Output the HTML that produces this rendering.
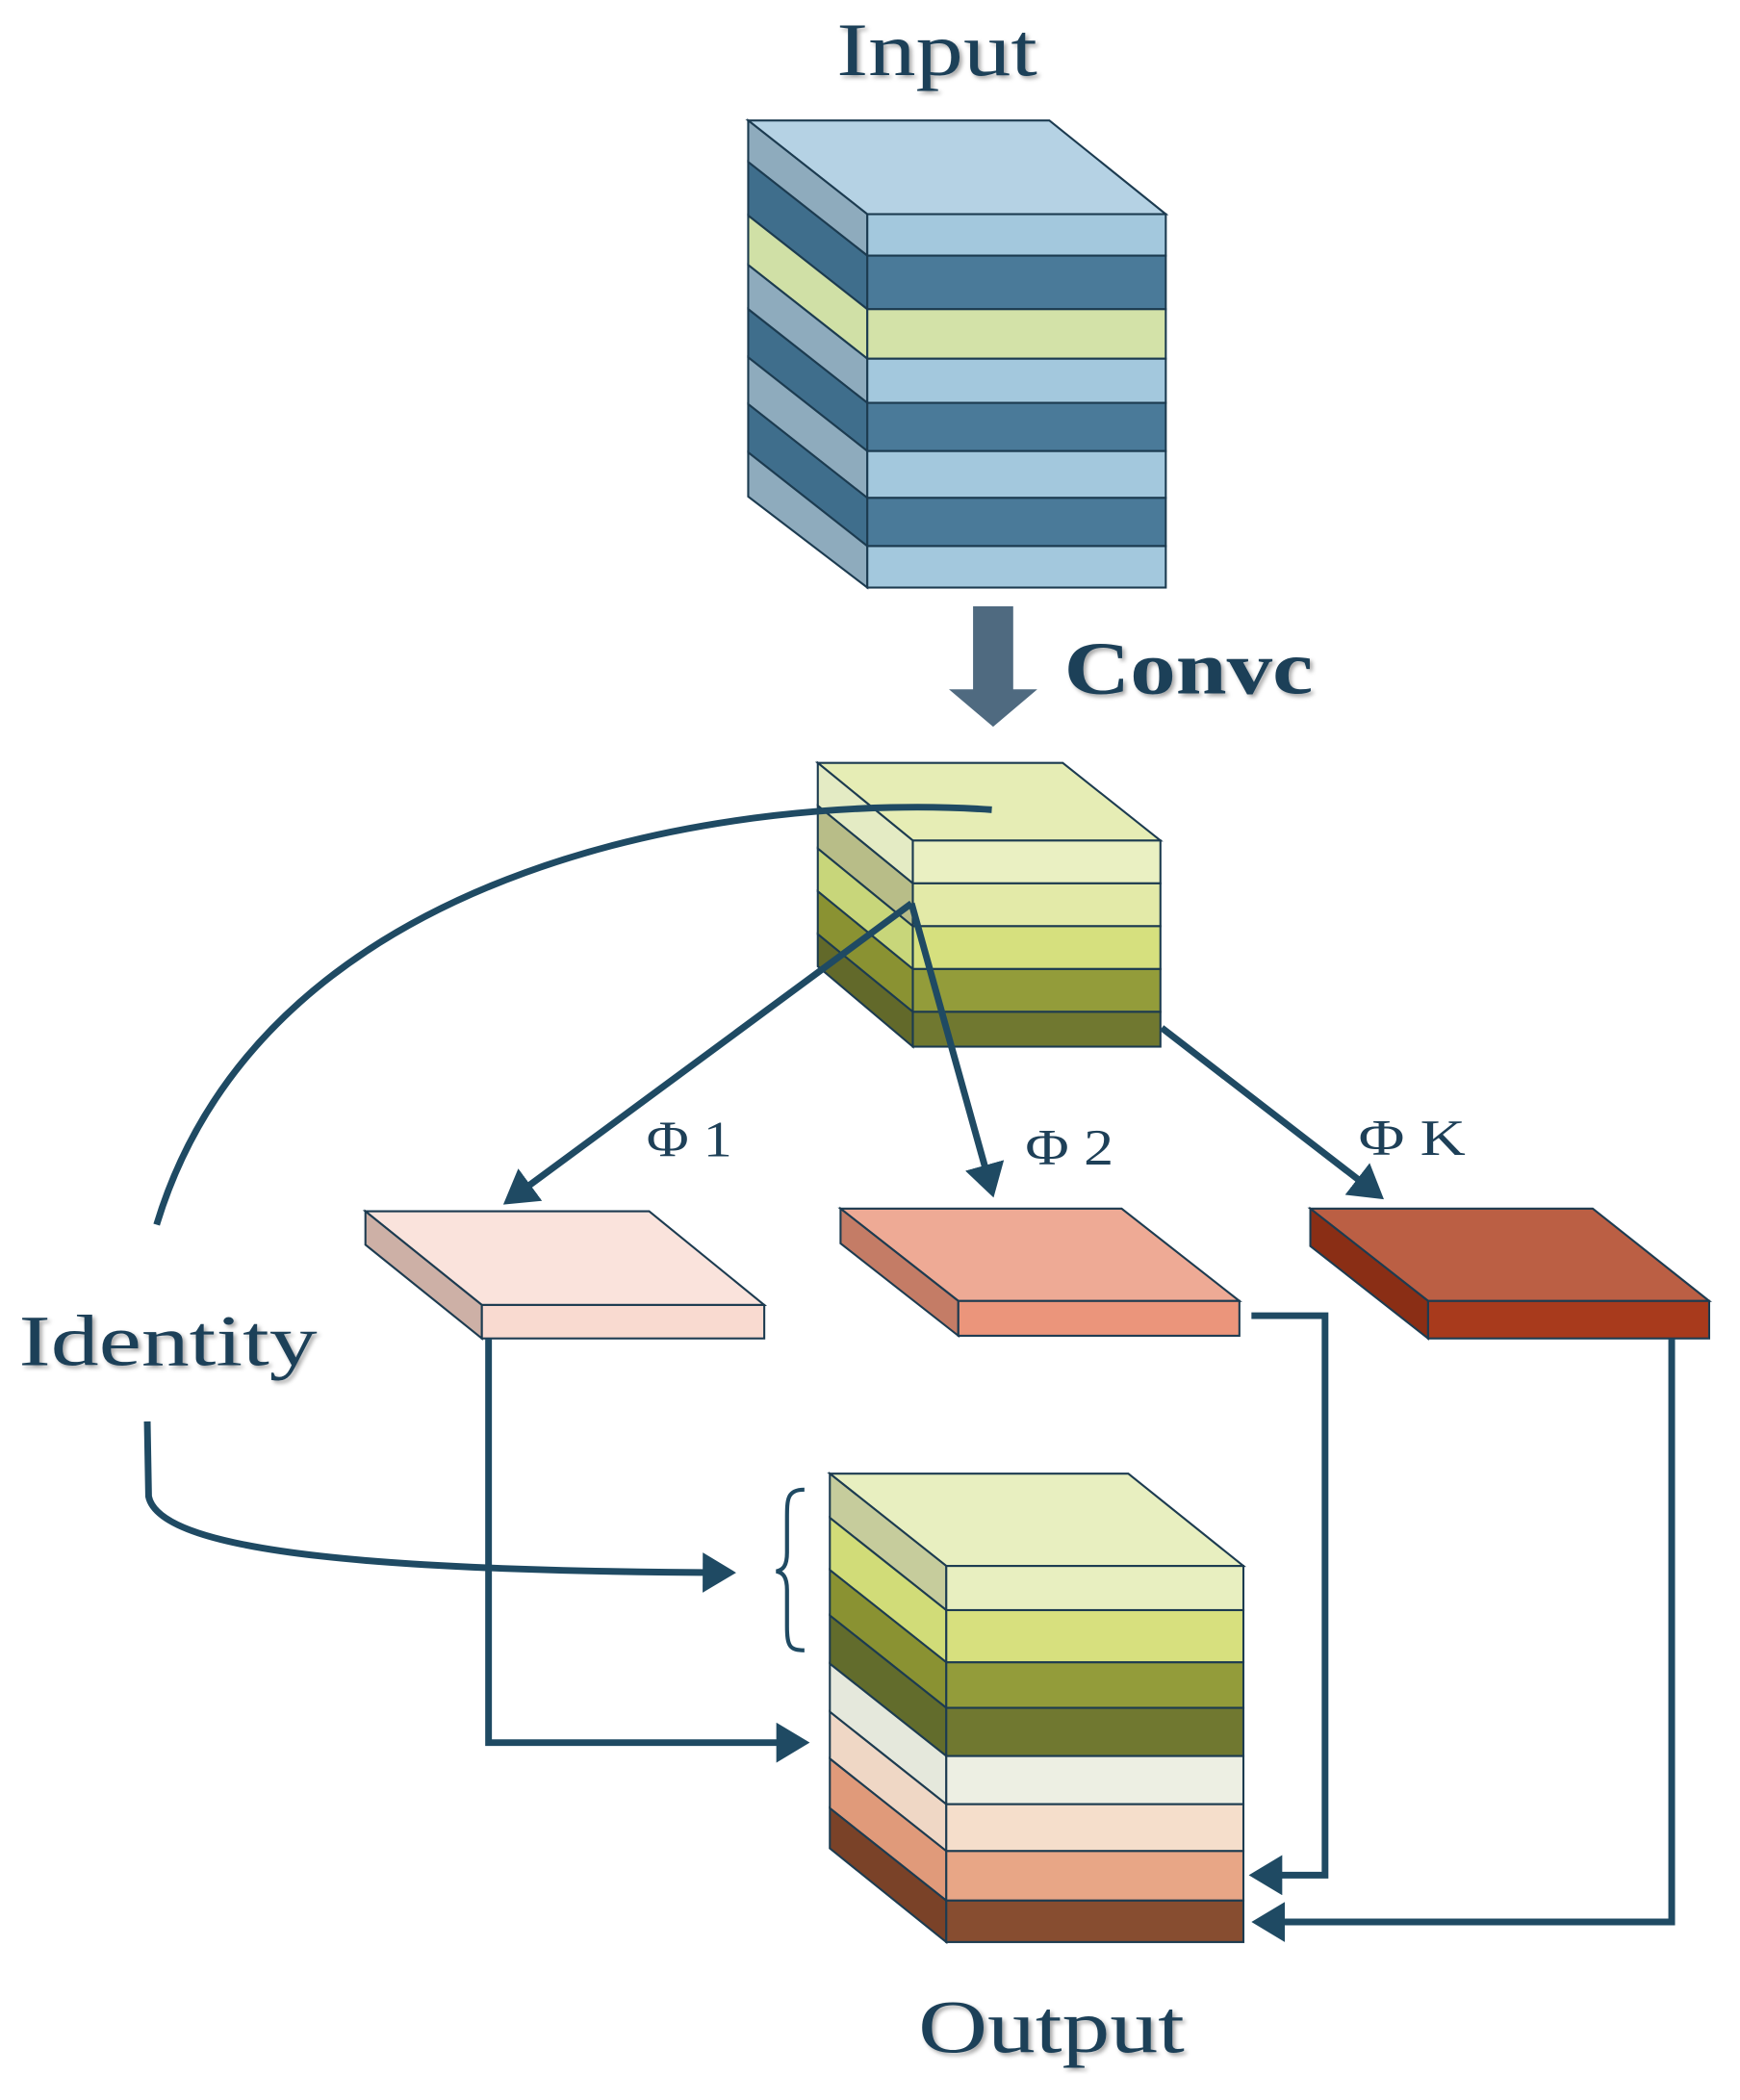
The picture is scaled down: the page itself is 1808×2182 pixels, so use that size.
<!DOCTYPE html>
<html><head><meta charset="utf-8"><style>html,body{margin:0;padding:0;background:#fff}svg{display:block}</style></head>
<body>
<svg width="1808" height="2182" viewBox="0 0 1300 1569" xmlns="http://www.w3.org/2000/svg">
<defs>
<marker id="ah" markerWidth="6" markerHeight="6" refX="4" refY="3" orient="auto" markerUnits="strokeWidth">
<path d="M0,0 L5,3 L0,6 Z" fill="#1f4a63"/></marker>
<filter id="sh"><feDropShadow dx="2" dy="2" stdDeviation="1.5" flood-color="#000" flood-opacity="0.35"/></filter>
</defs>
<g font-family="Liberation Serif, serif" fill="#1e4058" filter="url(#sh)">
<text x="625" y="56" font-size="56" textLength="150" lengthAdjust="spacingAndGlyphs">Input</text>
<text x="795" y="518" font-size="56" font-weight="bold" textLength="186" lengthAdjust="spacingAndGlyphs">Convc</text>
<text x="14" y="1020" font-size="54" textLength="223" lengthAdjust="spacingAndGlyphs">Identity</text>
<text x="686" y="1533" font-size="56" textLength="199" lengthAdjust="spacingAndGlyphs">Output</text>
</g>
<g stroke="#1c3b50" stroke-width="1.5">
<polygon points="559,90 784,90 871,160 648,160" fill="#b5d2e4"/>
<polygon points="559,90 648,160 648,191 559,121" fill="#8eabbd"/>
<polygon points="559,121 648,191 648,231 559,161" fill="#3f6e8c"/>
<polygon points="559,161 648,231 648,268 559,198" fill="#d0e0a6"/>
<polygon points="559,198 648,268 648,301 559,231" fill="#8eabbd"/>
<polygon points="559,231 648,301 648,337 559,267" fill="#3f6e8c"/>
<polygon points="559,267 648,337 648,372 559,302" fill="#8eabbd"/>
<polygon points="559,302 648,372 648,408 559,338" fill="#3f6e8c"/>
<polygon points="559,338 648,408 648,439 559,371" fill="#8eabbd"/>
<rect x="648" y="160" width="223" height="31" fill="#a3c8dd"/>
<rect x="648" y="191" width="223" height="40" fill="#4a7a99"/>
<rect x="648" y="231" width="223" height="37" fill="#d3e2a8"/>
<rect x="648" y="268" width="223" height="33" fill="#a3c8dd"/>
<rect x="648" y="301" width="223" height="36" fill="#4a7a99"/>
<rect x="648" y="337" width="223" height="35" fill="#a3c8dd"/>
<rect x="648" y="372" width="223" height="36" fill="#4a7a99"/>
<rect x="648" y="408" width="223" height="31" fill="#a3c8dd"/>
<polygon points="727,453 757,453 757,515 775,515 742,543 709,515 727,515" fill="#4f6a80" stroke="none"/>
<polygon points="611,570 794,570 867,628 682,628" fill="#e6edb5"/>
<polygon points="611,570 682,628 682,660 611,602" fill="#e4ebc4"/>
<polygon points="611,602 682,660 682,692 611,634" fill="#b8bd88"/>
<polygon points="611,634 682,692 682,724 611,666" fill="#c8d67a"/>
<polygon points="611,666 682,724 682,756 611,698" fill="#8a9232"/>
<polygon points="611,698 682,756 682,782 611,722" fill="#62692a"/>
<rect x="682" y="628" width="185" height="32" fill="#eaf0c2"/>
<rect x="682" y="660" width="185" height="32" fill="#e3eaa8"/>
<rect x="682" y="692" width="185" height="32" fill="#d6e07e"/>
<rect x="682" y="724" width="185" height="32" fill="#939c3a"/>
<rect x="682" y="756" width="185" height="26" fill="#707830"/>
<polygon points="273,905 485,905 571,975 360,975" fill="#fae3dc"/>
<polygon points="273,905 360,975 360,1000 273,930" fill="#cdb0a6"/>
<rect x="360" y="975" width="211" height="25" fill="#f9dad0"/>
<polygon points="628,903 838,903 926,972 716,972" fill="#eeaa95"/>
<polygon points="628,903 716,972 716,998 628,929" fill="#c47c66"/>
<rect x="716" y="972" width="210" height="26" fill="#eb957b"/>
<polygon points="979,903 1190,903 1277,972 1067,972" fill="#bb5f44"/>
<polygon points="979,903 1067,972 1067,1000 979,931" fill="#8a2e15"/>
<rect x="1067" y="972" width="210" height="28" fill="#a83a1c"/>
<polygon points="620,1101 843,1101 929,1170 707,1170" fill="#e8efc0"/>
<polygon points="620,1101 707,1170 707,1203 620,1134" fill="#c6cc9c"/>
<polygon points="620,1134 707,1203 707,1242 620,1173" fill="#d1dc78"/>
<polygon points="620,1173 707,1242 707,1276 620,1207" fill="#8a9232"/>
<polygon points="620,1207 707,1276 707,1312 620,1243" fill="#626c2c"/>
<polygon points="620,1243 707,1312 707,1348 620,1279" fill="#e5e8dc"/>
<polygon points="620,1279 707,1348 707,1383 620,1314" fill="#efd7c5"/>
<polygon points="620,1314 707,1383 707,1420 620,1351" fill="#e09a7a"/>
<polygon points="620,1351 707,1420 707,1451 620,1381" fill="#7a4228"/>
<rect x="707" y="1170" width="222" height="33" fill="#e8efc0"/>
<rect x="707" y="1203" width="222" height="39" fill="#d7e07e"/>
<rect x="707" y="1242" width="222" height="34" fill="#939c3a"/>
<rect x="707" y="1276" width="222" height="36" fill="#707830"/>
<rect x="707" y="1312" width="222" height="36" fill="#edefe3"/>
<rect x="707" y="1348" width="222" height="35" fill="#f5decb"/>
<rect x="707" y="1383" width="222" height="37" fill="#e8a686"/>
<rect x="707" y="1420" width="222" height="31" fill="#874d30"/>
</g>
<g fill="none" stroke="#1f4a63" stroke-width="5">
<path d="M741,605 C560,592 200,640 117,915"/>
<path d="M681,675 L380,897" marker-end="url(#ah)"/>
<path d="M681,675 L741,890" marker-end="url(#ah)"/>
<path d="M868,768 L1030,893" marker-end="url(#ah)"/>
<path d="M365,1000 L365,1302 L600,1302" marker-end="url(#ah)"/>
<path d="M935,983 L990,983 L990,1401 L938,1401" marker-end="url(#ah)"/>
<path d="M1249,1000 L1249,1436 L940,1436" marker-end="url(#ah)"/>
<path d="M110,1062 L111,1118 C120,1162 300,1174 545,1175" marker-end="url(#ah)"/>
<path d="M601,1113 C588,1113 588,1120 588,1135 L588,1160 C588,1170 585,1173 580,1174 C585,1175 588,1178 588,1188 L588,1215 C588,1230 590,1233 601,1233" stroke-width="3"/>
</g>
<g font-family="Liberation Serif, serif" font-size="38" fill="#1e4058">
<text x="483" y="864" textLength="64" lengthAdjust="spacingAndGlyphs">Φ 1</text>
<text x="766" y="870" textLength="66" lengthAdjust="spacingAndGlyphs">Φ 2</text>
<text x="1015" y="863" textLength="80" lengthAdjust="spacingAndGlyphs">Φ K</text>
</g>
</svg>
</body></html>
